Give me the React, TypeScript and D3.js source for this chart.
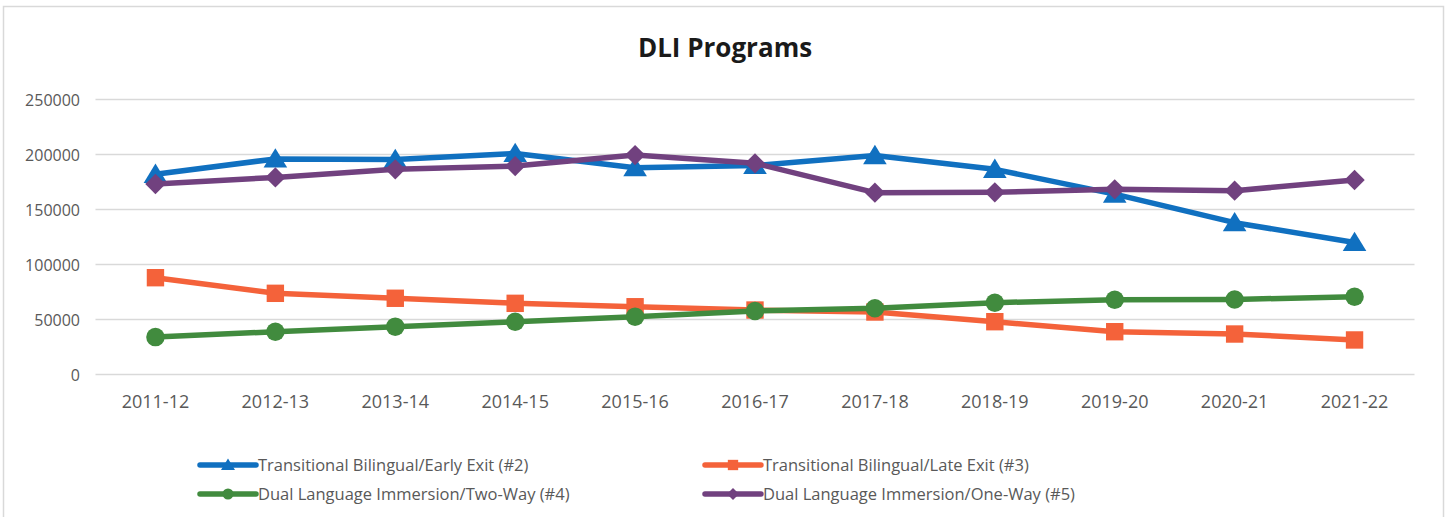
import React from "react";
import * as d3 from "d3";

const categories = ["2011-12","2012-13","2013-14","2014-15","2015-16","2016-17","2017-18","2018-19","2019-20","2020-21","2021-22"];
const earlyExit = [182000,196000,195500,201000,188000,190000,199000,186500,164000,138000,120000];
const lateExit = [88000,73800,69300,64700,61600,58600,56800,48000,38900,36800,31400];
const twoWay = [34000,38900,43500,48000,52600,57700,60200,65300,68000,68200,70700];
const oneWay = [173200,179200,186500,189500,199500,192000,165300,165600,168300,167100,176800];
const yTicks = [0,50000,100000,150000,200000,250000];

const seriesNames = [
  "Transitional Bilingual/Early Exit (#2)",
  "Transitional Bilingual/Late Exit (#3)",
  "Dual Language Immersion/Two-Way (#4)",
  "Dual Language Immersion/One-Way (#5)",
];
const colors = ["#1070C0", "#F4623A", "#418B3E", "#71417F"];
const shapes = ["triangle", "square", "circle", "diamond"];
const seriesData = [earlyExit, lateExit, twoWay, oneWay];

const W = 1448, H = 517;
const PL = 95.5, PR = 1414.5, PT = 99.5, PB = 374.5;

function Marker({ shape, x, y, color, s }: { shape: string; x: number; y: number; color: string; s: number }) {
  if (shape === "circle") return <circle cx={x} cy={y} r={s * 0.5} fill={color} />;
  if (shape === "square") return <rect x={x - s * 0.47} y={y - s * 0.47} width={s * 0.94} height={s * 0.94} fill={color} />;
  if (shape === "diamond") {
    const h = s * 0.55;
    return <path d={`M${x},${y - h}L${x + h},${y}L${x},${y + h}L${x - h},${y}Z`} fill={color} />;
  }
  const h = s * 0.58;
  return <path d={`M${x},${y - h}L${x + h * 1.1},${y + h * 0.8}L${x - h * 1.1},${y + h * 0.8}Z`} fill={color} />;
}

export default function App() {
  const x = d3.scaleBand<string>().domain(categories).range([PL, PR]);
  const y = d3.scaleLinear().domain([0, 250000]).range([PB, PT]);
  const line = d3.line<number>()
    .x((_, i) => (x(categories[i]) as number) + x.bandwidth() / 2)
    .y((d) => y(d));
  const font = "'Open Sans', sans-serif";
  const legendPos = [
    { lx: 200, ly: 465 },
    { lx: 705, ly: 465 },
    { lx: 200, ly: 494 },
    { lx: 705, ly: 494 },
  ];
  return (
    <svg width={W} height={H} style={{ position: "absolute", left: 0, top: 0, background: "#fff" }}>
      <rect x={3.5} y={6.5} width={1440} height={520} fill="#fff" stroke="#D9D9D9" strokeWidth={1.5} />
      <text x={725} y={57} textAnchor="middle" fontFamily={font} fontWeight={700} fontSize={26} fill="#1a1a1a">DLI Programs</text>
      {yTicks.map((t) => (
        <g key={t}>
          <line x1={PL} x2={PR} y1={y(t)} y2={y(t)} stroke="#D9D9D9" strokeWidth={1.5} />
          <text x={80} y={y(t) + 6} textAnchor="end" fontFamily={font} fontSize={16} fill="#595959">{t}</text>
        </g>
      ))}
      {categories.map((c) => (
        <text key={c} x={(x(c) as number) + x.bandwidth() / 2} y={408} textAnchor="middle" fontFamily={font} fontSize={18} fill="#595959">{c}</text>
      ))}
      {seriesData.map((vals, si) => (
        <g key={si}>
          <path d={line(vals) || ""} fill="none" stroke={colors[si]} strokeWidth={5.5} strokeLinejoin="round" />
          {vals.map((v, i) => (
            <Marker key={i} shape={shapes[si]} x={(x(categories[i]) as number) + x.bandwidth() / 2} y={y(v)} color={colors[si]} s={18.5} />
          ))}
        </g>
      ))}
      {seriesNames.map((n, si) => {
        const { lx, ly } = legendPos[si];
        return (
          <g key={n}>
            <line x1={lx} x2={lx + 56} y1={ly} y2={ly} stroke={colors[si]} strokeWidth={5.5} strokeLinecap="round" />
            <Marker shape={shapes[si]} x={lx + 28} y={ly} color={colors[si]} s={11} />
            <text x={lx + 58} y={ly + 5.5} fontFamily={font} fontSize={16.5} fill="#595959">{n}</text>
          </g>
        );
      })}
    </svg>
  );
}
